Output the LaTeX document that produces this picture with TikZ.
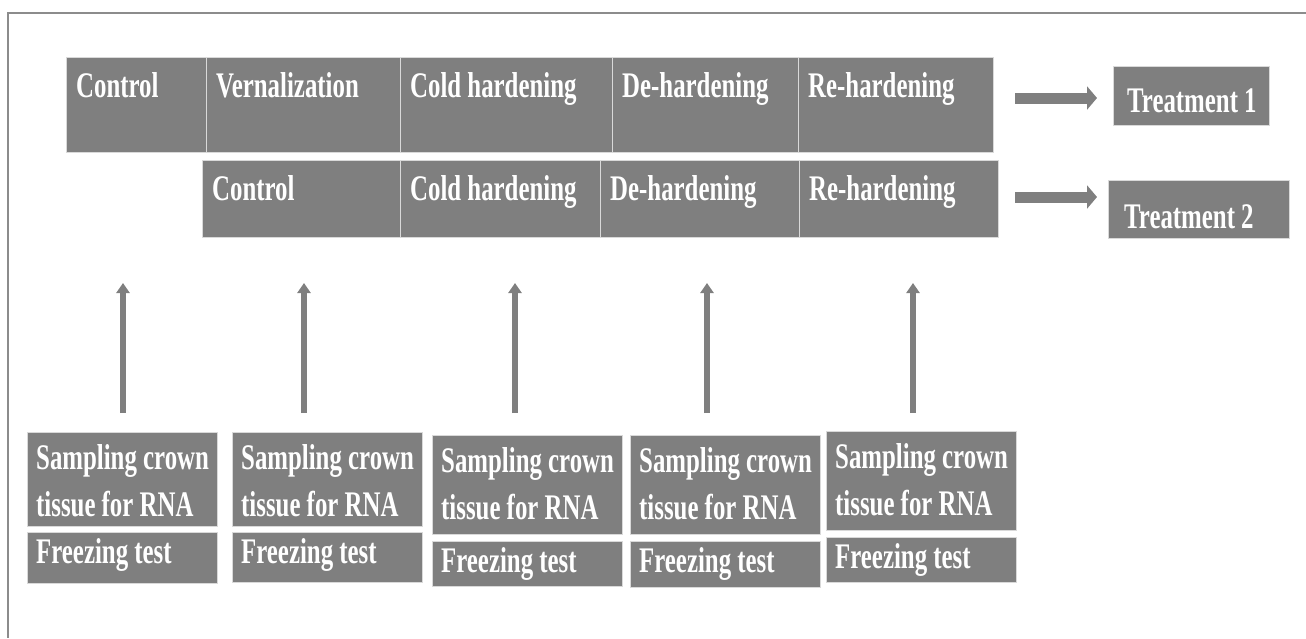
\documentclass[tikz,border=0pt]{standalone}
\usepackage{fontspec}
\setmainfont{Liberation Serif}[FakeStretch=0.69]
\usetikzlibrary{arrows.meta}
\definecolor{boxgray}{RGB}{127,127,127}
\definecolor{framegray}{RGB}{140,140,140}
\begin{document}
\begin{tikzpicture}[x=1pt,y=-1pt,
  cell/.style={draw=gray!30, line width=0.8pt, fill=boxgray, anchor=north west, inner sep=0pt},
  lab/.style={text=white, font=\fontsize{36}{47}\selectfont\bfseries, inner sep=0pt, anchor=base west},
  toplab/.style={lab, xshift=10pt, yshift=-40pt},
  harrow/.style={draw=boxgray, line width=11pt, -{Triangle[width=23pt,length=10pt]}},
  varrow/.style={draw=boxgray, line width=6pt, -{Triangle[width=13pt,length=10pt]}},
  frameline/.style={draw=framegray, line width=2pt}]
\useasboundingbox (0,0) rectangle (1306,638);
\draw[frameline] (1306,13) -- (8,13) -- (8,638);
% treatment 1 row
\node[cell, minimum width=140pt, minimum height=95pt, label={[toplab]north west:Control}] (a1) at (66,57) {};
\node[cell, minimum width=194pt, minimum height=95pt, label={[toplab]north west:Vernalization}] (a2) at (206,57) {};
\node[cell, minimum width=212pt, minimum height=95pt, label={[toplab]north west:Cold hardening}] (a3) at (400,57) {};
\node[cell, minimum width=186pt, minimum height=95pt, label={[toplab]north west:De-hardening}] (a4) at (612,57) {};
\node[cell, minimum width=195pt, minimum height=95pt, label={[toplab]north west:Re-hardening}] (a5) at (798,57) {};
% treatment 2 row
\node[cell, minimum width=198pt, minimum height=77pt, label={[toplab]north west:Control}] (b1) at (202,160) {};
\node[cell, minimum width=200pt, minimum height=77pt, label={[toplab]north west:Cold hardening}] (b2) at (400,160) {};
\node[cell, minimum width=199pt, minimum height=77pt, label={[toplab]north west:De-hardening}] (b3) at (600,160) {};
\node[cell, minimum width=199pt, minimum height=77pt, label={[toplab]north west:Re-hardening}] (b4) at (799,160) {};
% treatment boxes
\node[cell, minimum width=156pt, minimum height=59pt, label={[lab, xshift=14pt, yshift=-46pt]north west:Treatment 1}] (t1) at (1113,66) {};
\node[cell, minimum width=181pt, minimum height=58pt, label={[lab, xshift=16pt, yshift=-48pt]north west:Treatment 2}] (t2) at (1108,180) {};
\coordinate (h1s) at (1015,98);
\coordinate (h1e) at (1097,98);
\coordinate (h2s) at (1015,197);
\coordinate (h2e) at (1097,197);
\draw[harrow] (h1s) -- (h1e);
\draw[harrow] (h2s) -- (h2e);
% sampling boxes
\foreach \n/\x/\y/\h/\fy/\fh in {1/27/432/94/532/51, 2/232/432/94/532/50, 3/432/435/99/541/45, 4/630/435/99/541/46, 5/826/431/99/537/45}{
  \node[cell, minimum width=190pt, minimum height=\h pt,
    label={[lab, xshift=9pt, yshift=-37pt]north west:Sampling crown},
    label={[lab, xshift=9pt, yshift=-84pt]north west:tissue for RNA}] (s\n) at (\x,\y) {};
  \node[cell, minimum width=190pt, minimum height=\fh pt,
    label={[lab, xshift=9pt, yshift=-31pt]north west:Freezing test}] (f\n) at (\x,\fy) {};
}
% vertical arrows
\foreach \n/\x in {1/123, 2/304, 3/515, 4/707, 5/913}{
  \coordinate (v\n s) at (\x,413);
  \coordinate (v\n e) at (\x,283);
  \draw[varrow] (v\n s) -- (v\n e);
}
\end{tikzpicture}
\end{document}
